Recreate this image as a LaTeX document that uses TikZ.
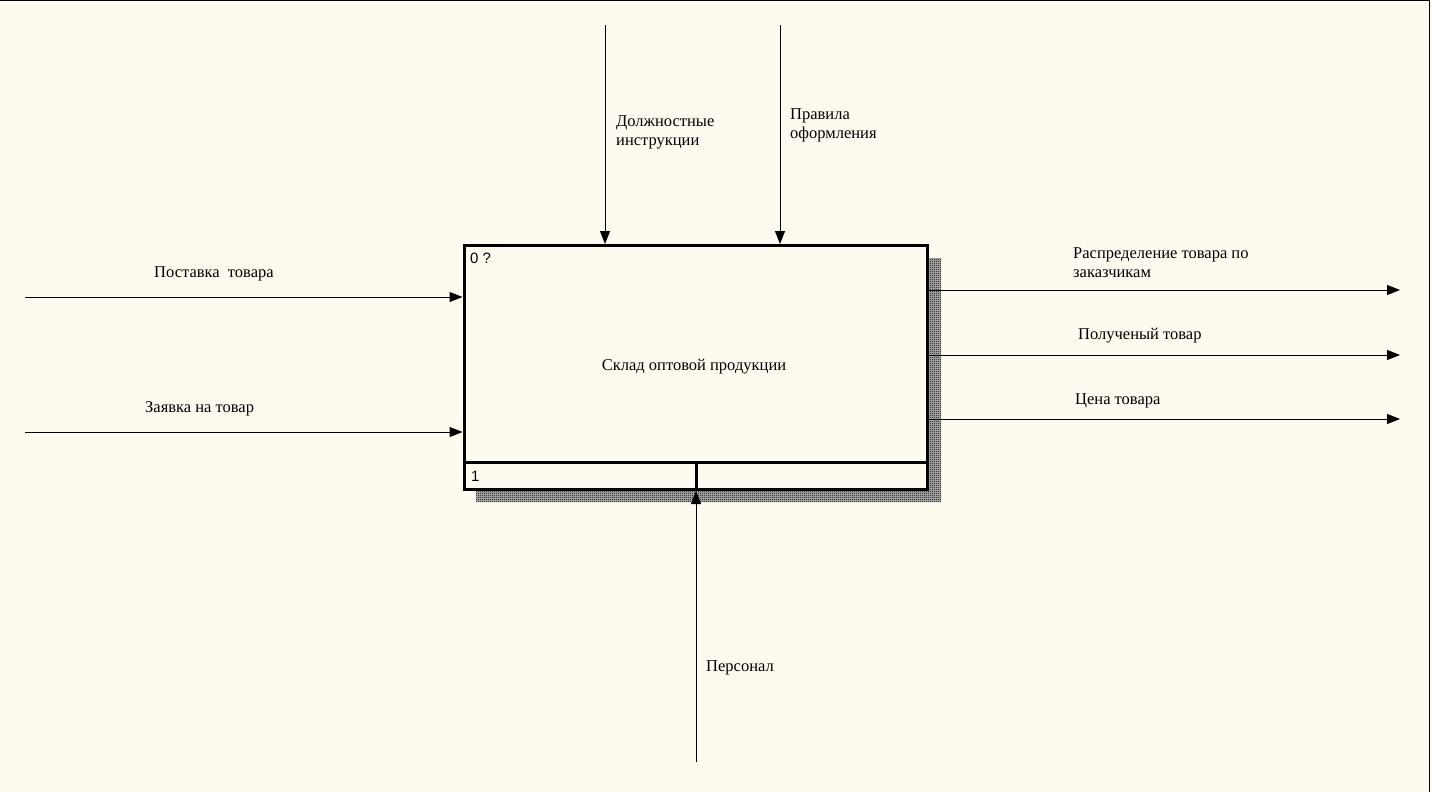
\documentclass[tikz,border=0pt]{standalone}
\usepackage{fontspec}
\setmainfont{Liberation Serif}
\newfontfamily\arialfont{Liberation Sans}
\usetikzlibrary{arrows.meta,patterns}
\definecolor{bgcream}{RGB}{255,250,240}
\pgfdeclarepatternformonly{checker}{\pgfpointorigin}{\pgfpoint{2pt}{2pt}}{\pgfpoint{2pt}{2pt}}{%
  \pgfpathrectangle{\pgfpointorigin}{\pgfpoint{1pt}{1pt}}%
  \pgfpathrectangle{\pgfpoint{1pt}{1pt}}{\pgfpoint{1pt}{1pt}}%
  \pgfusepath{fill}}
\begin{document}
\begin{tikzpicture}[x=1pt,y=-1pt,
  lbl/.style={font=\fontsize{16.5}{19}\selectfont, inner sep=0pt, align=left},
  numlbl/.style={font=\arialfont\fontsize{15}{18}\selectfont, inner sep=0pt, anchor=base west},
  arr/.style={line width=1pt, -{Triangle[length=13pt,width=10pt]}},
  boxst/.style={draw, line width=3pt, minimum width=463pt, minimum height=244pt, fill=bgcream, inner sep=0pt},
  thick3/.style={line width=3pt},
  shadowst/.style={fill=black!30, postaction={pattern=checker}}]
\useasboundingbox (0,0) rectangle (1432,792);
\fill[bgcream] (0,0) rectangle (1432,792);
\draw[line width=1.5pt] (0,0.75) -- (1429.5,0.75) -- (1429.5,792);
% shadow
\path[shadowst] (929,258) -- (941,258) -- (941,502) -- (476,502) -- (476,491) -- (929,491) -- cycle;
% main box
\node[boxst] (box) at (695.5,367.5) {};
\coordinate (sl) at (464,462.5);
\coordinate (sr) at (927,462.5);
\draw[thick3] (sl) -- (sr);
\coordinate (dt) at (696,462.5);
\coordinate (db) at (696,489.5);
\draw[thick3] (dt) -- (db);
\node[numlbl] (n0) at (470,263.5) {0 ?};
\node[numlbl] (n1) at (471,481.5) {1};
\node[lbl, anchor=base] (title) at (694,370) {Склад оптовой продукции};
% controls
\coordinate (t1) at (605,25);
\coordinate (t2) at (780,25);
\draw[arr] (t1) -- (t1 |- box.north);
\draw[arr] (t2) -- (t2 |- box.north);
\node[lbl, anchor=base west] (lt1) at (616,145.5) {Должностные\\инструкции};
\node[lbl, anchor=base west] (lt2) at (790,138) {Правила\\оформления};
% inputs
\coordinate (l1) at (25,297);
\coordinate (l2) at (25,432);
\draw[arr] (l1) -- (l1 -| box.west);
\draw[arr] (l2) -- (l2 -| box.west);
\node[lbl, anchor=base west] (ll1) at (154,277) {Поставка\ \ товара};
\node[lbl, anchor=base west] (ll2) at (145,412) {Заявка на товар};
% outputs
\coordinate (r1) at (1400,290);
\coordinate (r2) at (1400,355);
\coordinate (r3) at (1400,419);
\draw[arr] (r1 -| box.east) -- (r1);
\draw[arr] (r2 -| box.east) -- (r2);
\draw[arr] (r3 -| box.east) -- (r3);
\node[lbl, anchor=base west] (lr1) at (1073,277) {Распределение товара по\\заказчикам};
\node[lbl, anchor=base west] (lr2) at (1078,339) {Полученый товар};
\node[lbl, anchor=base west] (lr3) at (1075,404) {Цена товара};
% mechanism
\coordinate (b1) at (696,762);
\draw[arr] (b1) -- (b1 |- box.south);
\node[lbl, anchor=base west] (lb1) at (706,671) {Персонал};
\end{tikzpicture}
\end{document}
